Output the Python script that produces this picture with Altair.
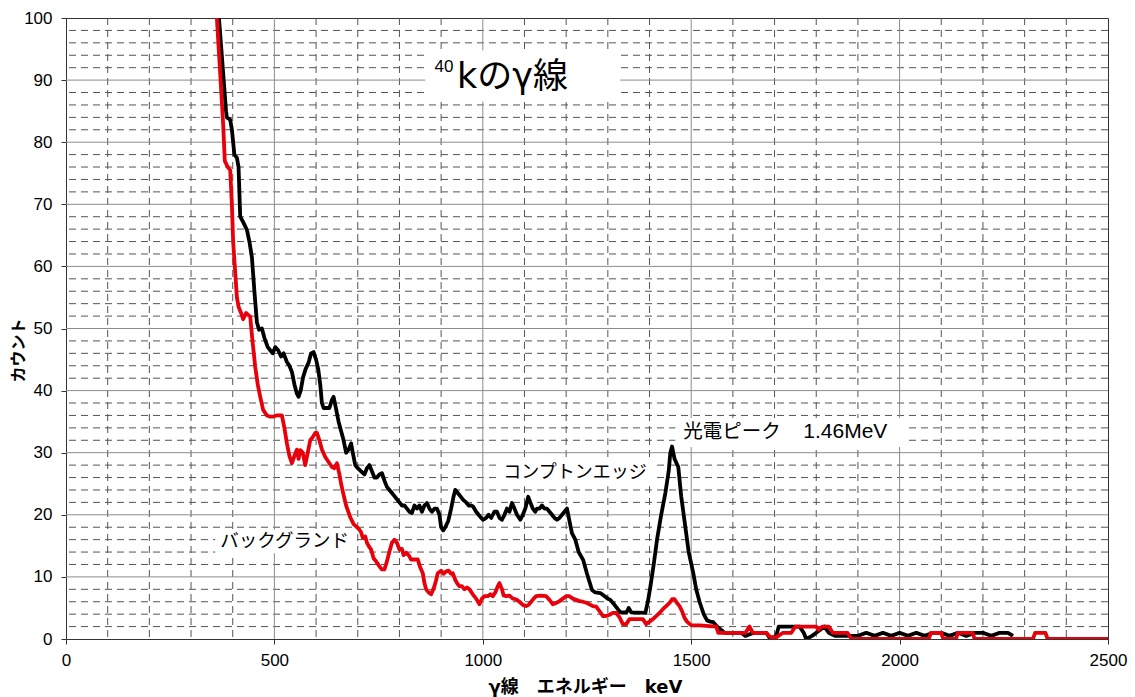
import altair as alt
import pandas as pd

# ---- spectrum with K-40 source (black) ----
energy_black = [361,367,384,386,394,398,404,410,414,418,426,434,440,446,452,458,463,470,476,484,490,496,502,509,516,522,530,536,542,548,554,558,563,569,575,582,588,594,600,605,610,614,618,632,638,642,648,654,660,666,672,678,684,688,694,700,708,716,722,728,734,740,746,752,758,764,770,776,782,788,794,800,806,812,818,824,830,836,842,848,854,860,866,872,878,884,890,896,900,905,910,917,924,930,934,940,946,953,960,966,972,977,984,990,996,1001,1008,1014,1020,1028,1034,1040,1046,1052,1058,1064,1070,1076,1082,1090,1096,1102,1109,1114,1120,1126,1130,1136,1142,1148,1154,1160,1166,1172,1178,1184,1190,1196,1202,1208,1214,1222,1230,1241,1250,1262,1270,1282,1290,1300,1306,1316,1324,1330,1345,1350,1356,1390,1396,1402,1410,1418,1428,1438,1446,1450,1454,1460,1469,1476,1486,1494,1505,1512,1520,1530,1538,1546,1553,1562,1580,1600,1620,1630,1650,1680,1690,1704,1710,1730,1760,1770,1776,1790,1800,1820,1830,1845,1880,1900,1920,1940,1960,1980,2000,2020,2040,2060,2080,2100,2120,2140,2160,2180,2200,2220,2240,2260,2272]
count_black = [105,100,85,84,83.6,82,78,77.5,76,68,67,65.9,64,61.5,56,51,49.8,50,48.5,47,46.5,46,47,46.5,45.5,46,44.6,44,43,41,39.5,39,40,42.2,43.5,44.5,46,46.2,45,43.5,41,38,37.2,37.2,38.5,39,37,35,33.5,32,30,30.5,31.5,30,28,27.5,27,26.5,27.5,28,27,26,26,26.5,26.7,25.5,24.5,24,23.5,23,22.5,22,21.5,21.5,21,20.5,20.3,21.5,21,21.5,20.5,21.5,21.9,21,20.5,21,21,20,18,17.5,18,19,21,23,24,23.5,23,22.4,22,21.5,21.5,21.3,20.5,20,19.5,19.2,19.5,20,19.5,20.5,20.5,19.5,19.2,20,21,20.5,21.9,21,20,19.2,20,21,22.9,22,21,20.5,21,21,21.5,21,21,20.5,20,19.5,19.2,19.5,20,20.5,21,19,17,16,14,12.7,10.5,7.9,7.5,7.4,7,6.5,6.3,5.5,4.8,4.3,4.3,5,4.3,4.2,6,8.4,12,16,20,23.5,27,30,31,29,27.7,23,18,14,10.6,8,6,4,3,2.8,2.7,2,1,1,1,0.5,1,1,0,0.5,2,2,2,1,0,0.5,1,2,1,0.5,0.5,0.5,1,0.5,1,0.5,1,0.5,1,0.5,1,1,0.5,1,0.5,1,1,0.5,1,1,0.5]

# ---- background (red) ----
energy_red = [357,362,370,377,381,388,394,398,401,406,410,414,420,425,432,437,442,446,449,454,460,466,473,482,490,497,505,512,518,524,530,536,542,548,554,558,562,568,574,580,586,592,598,602,608,614,622,630,638,644,650,656,660,665,672,682,690,698,704,708,712,718,722,726,732,738,744,752,758,764,770,776,782,788,794,800,806,810,816,822,828,836,844,850,856,860,864,870,876,880,884,888,892,900,906,912,918,924,928,934,940,944,950,956,962,968,976,984,992,998,1004,1012,1018,1024,1030,1036,1040,1046,1050,1056,1064,1072,1080,1088,1096,1104,1110,1116,1122,1128,1140,1152,1160,1168,1176,1184,1192,1200,1208,1216,1224,1232,1240,1250,1264,1272,1280,1288,1296,1304,1312,1320,1328,1336,1344,1352,1370,1384,1392,1400,1408,1416,1424,1432,1440,1448,1454,1460,1466,1472,1478,1484,1490,1500,1520,1560,1565,1590,1600,1630,1640,1648,1680,1690,1705,1720,1740,1750,1790,1800,1805,1815,1830,1840,1860,1875,1885,2070,2075,2100,2105,2135,2140,2175,2180,2320,2325,2350,2355,2500]
count_red = [105,100,91,83,77,76,75.5,70,64,59,55,53.5,52.5,51.5,52.5,52.2,51.9,49,47,43.8,41,39,36.9,36,35.8,35.8,36,36,36,34,31.5,29.5,28.3,29.5,30.5,29,30.4,30,28,30,32,32.5,33.2,33.2,32,30.5,29.3,28.5,27.7,27.5,28.3,26.5,25,23.5,21.5,19.6,18.5,18,17.6,17.2,16.3,16.5,15.5,15,14.4,13,12.5,11.7,11.2,11.2,12.5,14.1,15.5,16,15.5,14.4,14.5,13.5,13.9,13.5,12.8,12.8,12.8,11.5,10.6,9,8,7.5,7.2,7.8,8.5,9.5,10.6,11,10.5,10.9,11,10.5,10.6,9.5,8.8,8.5,8.5,8,8.3,8,7.2,6.5,5.6,6.5,6.9,6.9,7.2,6.9,7.5,8.5,9,8,7,6.9,7,6.5,6.4,6,5.5,5.3,5.5,6,6.5,6.9,7,6.9,6.3,5.6,5.8,6.1,6.5,6.9,6.9,6.5,6.3,6.1,6,5.8,5.3,5.2,4.5,3.7,3.7,3.9,4.2,4.2,3.5,2.4,2.4,3.2,3.2,3.2,2.4,2.8,3.2,3.7,4.2,4.8,5.3,5.8,6.4,6.4,5.8,5.3,4.5,3.4,2.8,2.2,2.2,2,1,1,1,1,2,1,1,0.3,0.3,1,1,2,2,2,1.5,2,2,1,1,1,0,0,1,1,0,0,1,1,0,0,1,1,0,0]

# ---- grid values ----
major_x = [500, 1000, 1500, 2000]
minor_x = [v for v in range(100, 2500, 100) if v % 500 != 0]
major_y = [10, 20, 30, 40, 50, 60, 70, 80, 90]
minor_y = [v for v in range(2, 100, 2) if v % 10 != 0]
x_ticks = [0, 500, 1000, 1500, 2000, 2500]
y_ticks = list(range(0, 101, 10))

# ---- annotations ----
box_x = [862, 1462, 1042, 358]
box_x2 = [1330, 2014, 1414, 694]
box_y = [94.8, 35.6, 28.5, 17.6]
box_y2 = [86.5, 30.9, 24.6, 13.8]

label_text = ["光電ピーク", "1.46MeV", "コンプトンエッジ", "バックグランド"]
label_x = [1481, 1769, 1049, 370]
label_y = [33.3, 33.3, 26.7, 15.8]
label_size = [19.5, 21, 18, 18.5]
label_font = ["Noto Sans CJK JP", "Liberation Sans", "Noto Sans CJK JP", "Noto Sans CJK JP"]

title_text = ["40", "kのγ線"]
title_x = [907, 938]
title_y = [92.1, 90.5]
title_size = [17, 35]
title_font = ["Liberation Sans", "DejaVu Sans, Noto Sans CJK JP"]

LAT = "Liberation Sans"
AX_TITLE_FONT = "DejaVu Sans, Noto Sans CJK JP"

xs = alt.Scale(domain=[0, 2500], nice=False, zero=False)
ys = alt.Scale(domain=[0, 100], nice=False)

x_axis = alt.Axis(
    values=x_ticks, format="d", title="γ線　エネルギー　keV", grid=False,
    labelFont=LAT, labelFontSize=17, labelColor="black",
    labelPadding=8, tickSize=5, tickColor="#333", domainColor="#333",
    labelFlush=False, labelOverlap=False,
    titleFont=AX_TITLE_FONT, titleFontSize=18, titleFontWeight="bold", titleColor="black",
    titleX=519, titleY=48, titleAlign="center", titleBaseline="middle")
y_axis = alt.Axis(
    values=y_ticks, format="d", title="カウント", grid=False,
    labelFont=LAT, labelFontSize=17, labelColor="black",
    labelPadding=9, tickSize=5, tickColor="#333", domainColor="#333",
    labelFlush=False, labelOverlap=False,
    titleFont=AX_TITLE_FONT, titleFontSize=16, titleFontWeight="bold", titleColor="black",
    titleAngle=-90, titleX=-48, titleY=332, titleAlign="center", titleBaseline="middle")


def X(f):
    return alt.X(f, scale=xs, axis=x_axis)


def Y(f):
    return alt.Y(f, scale=ys, axis=y_axis)


df_black = pd.DataFrame({"E": energy_black, "C": count_black})
df_red = pd.DataFrame({"E": energy_red, "C": count_red})

vmaj = alt.Chart(pd.DataFrame({"v": major_x})).mark_rule(color="#8c8c8c", strokeWidth=1).encode(x=X("v:Q"))
vmin = alt.Chart(pd.DataFrame({"v": minor_x})).mark_rule(color="#555", strokeWidth=1, strokeDash=[7, 5]).encode(x=X("v:Q"))
hmaj = alt.Chart(pd.DataFrame({"v": major_y})).mark_rule(color="#8c8c8c", strokeWidth=1).encode(y=Y("v:Q"))
hmin = alt.Chart(pd.DataFrame({"v": minor_y})).mark_rule(color="#555", strokeWidth=1, strokeDash=[7, 5]).encode(y=Y("v:Q"))

boxes = alt.Chart(pd.DataFrame({"x": box_x, "x2": box_x2, "y": box_y, "y2": box_y2})).mark_rect(
    color="white").encode(x=X("x:Q"), x2="x2:Q", y=Y("y:Q"), y2="y2:Q")

black = alt.Chart(df_black).mark_line(color="black", strokeWidth=3.8, clip=True,
                                      strokeJoin="round").encode(
    x=X("E:Q"), y=Y("C:Q"), order=alt.Order("E:Q"))

red = alt.Chart(df_red).mark_line(color="#e8000b", strokeWidth=3.8, clip=True,
                                  strokeJoin="round").encode(
    x=X("E:Q"), y=Y("C:Q"), order=alt.Order("E:Q"))


def text_layer(texts, xv, yv, sizes, fonts, align):
    layers = []
    for t, xx, yy, s, f in zip(texts, xv, yv, sizes, fonts):
        layers.append(
            alt.Chart(pd.DataFrame({"t": [t], "x": [xx], "y": [yy]})).mark_text(
                align=align, baseline="middle", font=f, fontSize=s, color="black").encode(
                x=X("x:Q"), y=Y("y:Q"), text="t:N"))
    return layers


labels = text_layer(label_text, label_x, label_y, label_size, label_font, "left")
titles = [
    text_layer(title_text[:1], title_x[:1], title_y[:1], title_size[:1], title_font[:1], "center")[0],
    text_layer(title_text[1:], title_x[1:], title_y[1:], title_size[1:], title_font[1:], "left")[0],
]

chart = alt.layer(vmin, hmin, vmaj, hmaj, boxes, black, red, *labels, *titles).properties(
    width=1042, height=621,
    padding={"left": 66, "top": 18, "right": 27, "bottom": 58},
    autosize=alt.AutoSizeParams(type="none"),
    background="white",
).configure_view(stroke="#333", strokeWidth=1)

chart.save("out.html", embed_options={"renderer": "svg", "actions": False})
